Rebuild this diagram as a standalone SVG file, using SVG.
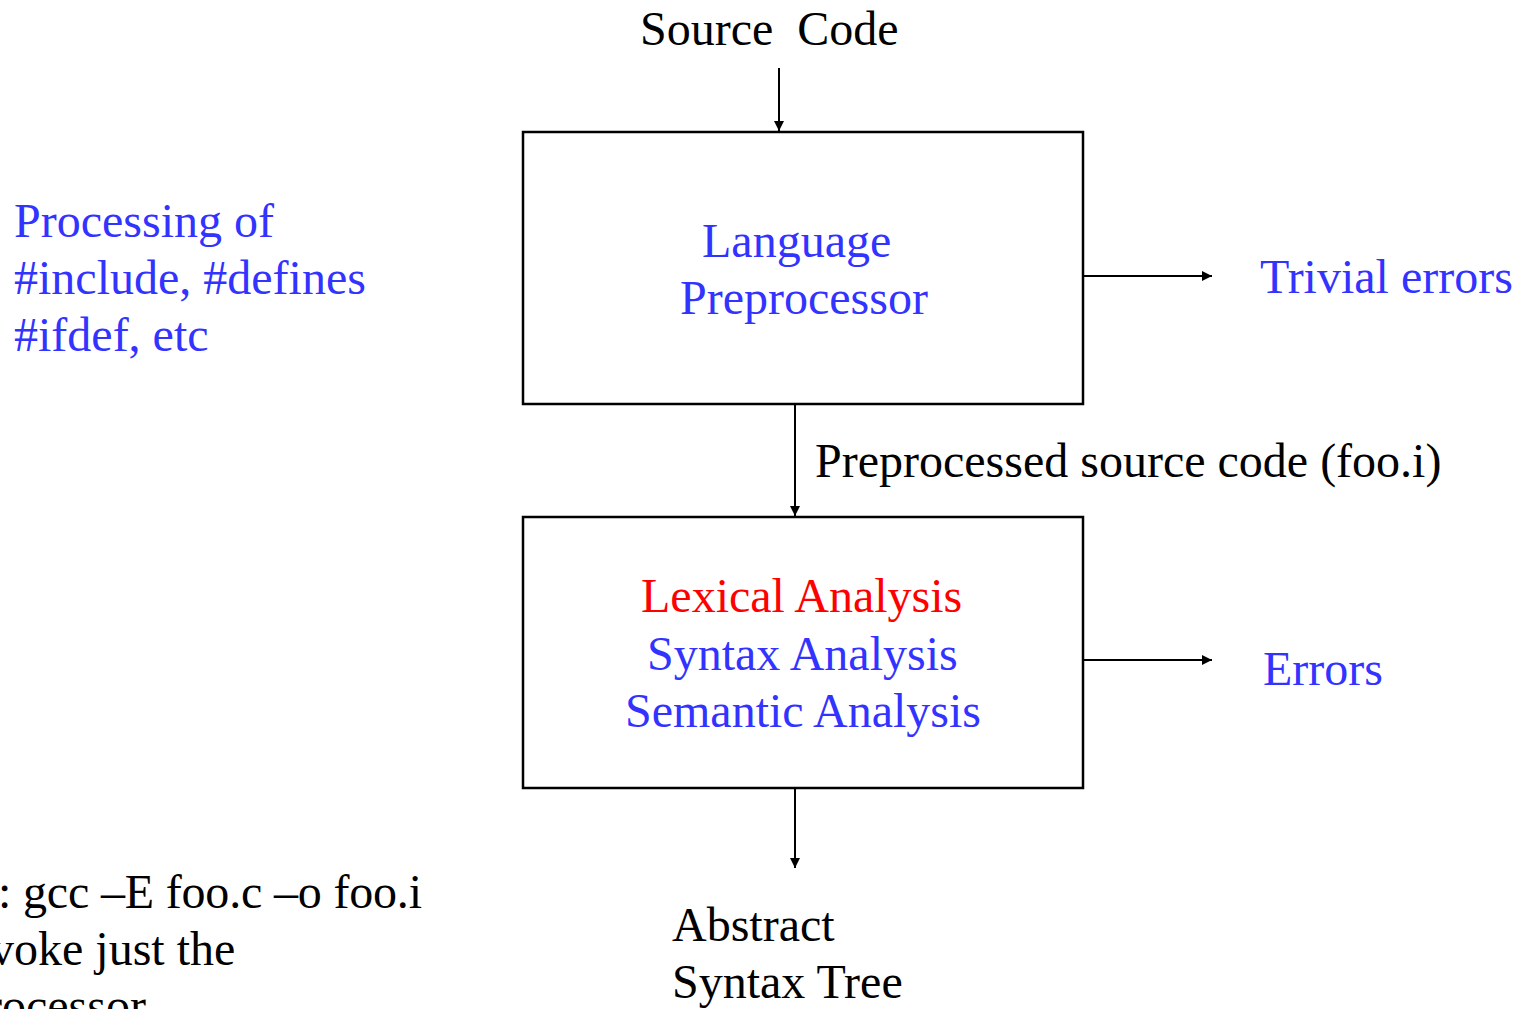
<svg xmlns="http://www.w3.org/2000/svg" width="1520" height="1009" viewBox="0 0 1520 1009">
  <style>
    text { font-family: "Liberation Serif", "Times New Roman", serif; font-size: 48px; white-space: pre; }
    .blk { fill: #000000; }
    .blu { fill: #3333ff; }
    .red { fill: #ff0000; }
    .box { fill: #ffffff; stroke: #000000; stroke-width: 2.5; }
    .wire { stroke: #000000; stroke-width: 2; fill: none; marker-end: url(#head); }
  </style>
  <defs>
    <marker id="head" viewBox="0 0 10 10" refX="10" refY="5" markerWidth="10" markerHeight="10" markerUnits="userSpaceOnUse" orient="auto">
      <path d="M0,0 L10,5 L0,10 Z" fill="#000000"/>
    </marker>
  </defs>
  <rect width="1520" height="1009" fill="#ffffff"/>

  <g id="connectors">
    <line class="wire" x1="779" y1="68" x2="779" y2="131"/>
    <line class="wire" x1="795" y1="405" x2="795" y2="516"/>
    <line class="wire" x1="795" y1="789" x2="795" y2="868"/>
    <line class="wire" x1="1084" y1="276" x2="1212" y2="276"/>
    <line class="wire" x1="1084" y1="660" x2="1212" y2="660"/>
  </g>

  <g id="source-code">
    <text class="blk" x="640" y="45">Source  Code</text>
  </g>

  <g id="preprocessor">
    <rect class="box" x="523" y="132" width="560" height="272"/>
    <text class="blu" x="702" y="257">Language</text>
    <text class="blu" x="680" y="314">Preprocessor</text>
  </g>

  <g id="preprocessing-note">
    <text class="blu" x="14" y="237">Processing of</text>
    <text class="blu" x="14" y="294">#include, #defines</text>
    <text class="blu" x="14" y="351">#ifdef, etc</text>
  </g>

  <g id="trivial-errors">
    <text class="blu" x="1260" y="293">Trivial errors</text>
  </g>

  <g id="preprocessed-label">
    <text class="blk" x="815" y="477">Preprocessed source code (foo.i)</text>
  </g>

  <g id="analysis">
    <rect class="box" x="523" y="517" width="560" height="271"/>
    <text class="red" x="641" y="612">Lexical Analysis</text>
    <text class="blu" x="647" y="670">Syntax Analysis</text>
    <text class="blu" x="625" y="727">Semantic Analysis</text>
  </g>

  <g id="errors">
    <text class="blu" x="1263" y="685">Errors</text>
  </g>

  <g id="ast">
    <text class="blk" x="672" y="941">Abstract</text>
    <text class="blk" x="672" y="998">Syntax Tree</text>
  </g>

  <g id="gcc-note">
    <text class="blk" x="-2" y="908" textLength="424">: gcc –E foo.c –o foo.i</text>
    <text class="blk" x="-10" y="965">voke just the</text>
    <text class="blk" x="-14" y="1022">rocessor</text>
  </g>
</svg>
